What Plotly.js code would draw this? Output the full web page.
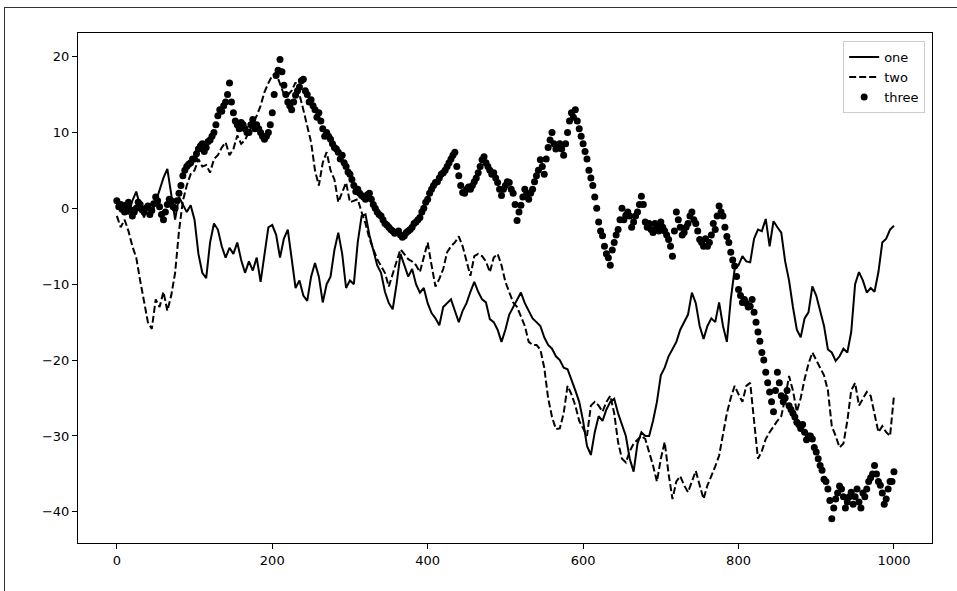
<!DOCTYPE html>
<html>
<head>
<meta charset="utf-8">
<script src="https://cdn.plot.ly/plotly-3.0.1.min.js"></script>
<style>
  html, body { margin: 0; padding: 0; background: #fff; overflow: hidden; }
  #chart { position: absolute; left: 0; top: 0; width: 957px; height: 591px; }
  #frame { position: absolute; left: 4px; top: 7px; width: 1200px; height: 900px;
           border-left: 1px solid #333; border-top: 1px solid #333; pointer-events: none; }
</style>
</head>
<body>
<div id="chart"></div>
<div id="frame"></div>
<script>
// Step interval between sampled readings (x = step index)
const stepSize = 5;

const seriesNames = ["one", "two", "three"];

const yOne = [
  0.5, -0.5, 0.8, -0.8, 1.0, 2.2, 0.3, -1.2, 0.4, -0.6,
  0.8, 2.5, 4.0, 5.2, 2.0, -1.5, 1.5, 0.5, -0.5, 0.4,
  -1.5, -6.0, -8.5, -9.2, -4.5, -2.0, -2.8, -5.0, -6.5, -5.2,
  -6.0, -4.5, -6.8, -8.5, -7.0, -8.2, -6.5, -9.7, -6.0, -2.5,
  -2.2, -3.5, -6.5, -4.0, -2.8, -6.5, -10.5, -9.5, -11.5, -12.2,
  -9.0, -7.2, -9.0, -12.4, -10.0, -9.0, -5.5, -3.2, -6.0, -10.5,
  -9.5, -10.0, -4.5, -1.0, -0.8, -3.5, -5.5, -7.5, -8.5, -11.0,
  -12.5, -13.3, -10.0, -6.0, -7.5, -9.0, -8.0, -10.0, -11.1, -10.5,
  -12.5, -13.8, -14.5, -15.4, -13.0, -12.5, -12.0, -13.5, -15.0, -13.5,
  -12.5, -11.0, -9.7, -11.0, -12.0, -12.4, -14.6, -15.0, -16.0, -17.6,
  -16.0, -14.0, -13.0, -12.0, -11.1, -12.5, -13.5, -14.5, -15.0, -15.5,
  -17.0, -18.0, -18.5, -19.5, -20.0, -21.0, -21.2, -22.5, -24.0, -25.5,
  -28.0, -31.3, -32.5, -29.5, -27.4, -28.0, -26.5, -25.5, -25.1, -27.0,
  -28.5, -30.0, -33.0, -34.7, -31.0, -29.5, -30.0, -30.0, -28.0, -25.5,
  -22.0, -21.0, -19.5, -18.5, -17.6, -16.0, -15.0, -14.0, -11.1, -12.5,
  -15.5, -17.2, -15.5, -14.5, -15.0, -12.4, -15.5, -17.6, -12.0, -8.0,
  -7.5, -6.3, -7.0, -7.1, -4.0, -2.8, -3.0, -1.4, -5.0, -1.7,
  -2.5, -3.2, -7.0, -9.5, -13.0, -16.0, -17.0, -14.5, -13.7, -10.3,
  -11.5, -13.7, -15.5, -18.6, -19.0, -20.1, -19.5, -18.5, -19.0, -16.3,
  -10.0, -8.4, -9.5, -11.1, -10.5, -11.0, -8.4, -4.5, -4.0, -2.8,
  -2.3
];

const yTwo = [
  -1.0, -2.5, -1.5, -3.0, -5.0, -6.5, -9.5, -12.5, -15.0, -15.9,
  -12.0, -13.0, -11.0, -13.5, -11.5, -8.5, -3.0, 1.0, 3.0, 4.5,
  5.0, 6.5, 5.5, 5.7, 4.7, 6.5, 7.0, 8.0, 8.7, 7.0,
  7.8, 9.6, 8.5, 9.0, 10.0, 11.0, 12.2, 13.5, 15.3, 16.5,
  17.5, 17.8, 16.5, 15.0, 14.9, 15.5, 16.6, 15.0, 13.0, 11.0,
  8.7, 5.0, 3.0, 6.0, 7.4, 5.0, 3.8, 0.8, 2.0, 3.4,
  0.8, 1.0, 1.2, -0.5, -2.0, -4.0, -5.5, -6.7, -7.6, -8.5,
  -10.3, -8.5, -7.0, -5.4, -6.0, -6.7, -7.0, -7.5, -8.4, -6.5,
  -4.5, -7.5, -10.3, -9.3, -8.0, -5.8, -5.0, -4.5, -3.7, -5.0,
  -7.0, -8.9, -6.3, -6.0, -6.3, -7.0, -8.4, -6.5, -6.0, -7.5,
  -9.7, -11.0, -12.4, -13.0, -14.2, -15.5, -17.6, -18.0, -18.0, -18.6,
  -21.0, -25.0, -27.5, -29.1, -29.0, -27.0, -23.4, -24.5, -26.0, -28.0,
  -29.0, -30.0, -26.0, -25.5, -26.0, -26.8, -25.5, -24.7, -27.0, -30.8,
  -33.0, -33.5, -32.0, -31.0, -30.5, -30.0, -30.4, -32.0, -33.9, -36.0,
  -33.0, -30.8, -35.0, -38.3, -36.0, -35.3, -36.5, -37.4, -36.0, -34.6,
  -36.5, -38.3, -36.5, -35.3, -34.0, -32.6, -30.0, -27.0, -25.0, -23.4,
  -24.5, -25.5, -23.4, -23.0, -28.0, -33.0, -32.0, -30.4, -29.5, -28.7,
  -28.0, -27.4, -25.0, -22.1, -24.0, -26.8, -25.0, -22.5, -20.5, -19.0,
  -20.0, -20.8, -22.0, -24.0, -28.7, -30.0, -31.5, -31.0, -28.0, -24.0,
  -23.0, -26.0, -25.0, -24.2, -24.7, -27.0, -29.5, -28.7, -29.5, -30.0,
  -24.7
];

// "three" readings on whole steps (0, 5, 10, ...)
const yThree = [
  1.0, 0.5, -0.5, 0.8, -1.0, 0.0, 0.5, -0.5, 0.3, -0.3,
  1.5, 0.2, -1.5, 0.5, 1.0, 0.0, 2.0, 4.3, 5.5, 6.0,
  6.5, 7.8, 8.5, 8.0, 9.0, 10.0, 12.2, 12.8, 14.0, 16.5,
  12.6, 11.0, 11.3, 10.5, 10.0, 11.7, 11.0, 10.0, 9.1, 10.0,
  12.6, 17.5, 19.6, 16.2, 14.0, 13.0, 14.9, 16.0, 17.0, 15.0,
  14.3, 13.0, 12.6, 10.5, 10.0, 9.1, 8.0, 7.4, 7.0, 5.5,
  4.5, 3.0, 2.5, 1.7, 1.2, 2.0, 0.5, -0.5, -1.0, -2.0,
  -2.5, -3.0, -3.2, -3.5, -3.6, -3.0, -2.5, -1.8, -1.2, 0.0,
  1.2, 2.5, 3.4, 4.0, 4.7, 5.5, 6.5, 7.4, 4.3, 2.1,
  2.5, 2.5, 3.5, 4.7, 6.4, 6.0, 5.0, 4.7, 3.4, 1.7,
  3.0, 3.4, 2.0, -1.6, 0.4, 2.5, 1.2, 2.5, 4.3, 6.4,
  4.5, 8.0, 10.0, 7.8, 8.5, 7.0, 10.0, 12.6, 13.0, 10.5,
  8.5, 6.5, 4.0, 1.5, -1.8, -3.6, -6.0, -7.5, -4.5, -2.8,
  0.0, -0.9, -1.0, -1.8, -0.5, 1.6, -1.8, -2.0, -3.2, -2.5,
  -1.8, -3.0, -4.1, -6.3, -0.5, -2.5, -3.2, -2.0, -0.5, -2.0,
  -4.1, -5.0, -5.0, -3.5, -2.8, 0.3, -1.0, -3.7, -5.8, -7.6,
  -10.7, -12.4, -12.5, -12.9, -13.7, -16.3, -19.0, -21.6, -24.2, -26.8,
  -21.6, -24.7, -25.0, -26.0, -27.0, -28.2, -29.0, -29.5, -30.0, -30.4,
  -32.1, -33.9, -35.7, -37.0, -40.9, -38.3, -36.6, -38.0, -38.7, -37.4,
  -38.0, -38.7, -37.5, -37.0, -35.5, -33.9, -36.0, -37.5, -38.3, -36.0,
  -34.7
];

// "three" readings between whole steps (2.5, 7.5, 12.5, ...)
const yThreeMid = [
  0.2, 0.0, 0.3, -0.2, -0.5, 0.8, -0.2, 0.0, -0.8, 0.6,
  1.0, -0.8, -0.5, 1.2, 0.2, 1.0, 3.0, 5.0, 5.8, 6.5,
  7.2, 8.2, 7.5, 8.8, 9.5, 11.0, 13.0, 13.5, 15.0, 14.0,
  11.5, 10.5, 11.0, 10.0, 11.0, 10.5, 10.5, 9.5, 9.5, 11.0,
  15.0, 18.2, 18.0, 15.0, 13.5, 14.0, 15.5, 16.8, 15.5, 14.0,
  13.5, 12.0, 11.5, 9.5, 9.5, 8.5, 7.8, 6.5, 6.0, 4.8,
  3.8, 2.2, 2.0, 1.5, 1.8, 1.2, 0.0, -0.8, -1.5, -2.2,
  -2.8, -3.3, -3.0, -3.8, -3.2, -2.8, -2.0, -1.5, -0.5, 0.8,
  2.0, 3.0, 3.5, 4.5, 5.0, 6.0, 7.0, 5.5, 3.0, 2.0,
  2.8, 3.0, 4.0, 5.5, 6.8, 5.5, 4.5, 4.0, 2.5, 2.5,
  3.5, 2.5, 0.5, -0.5, 1.5, 2.0, 2.0, 3.5, 5.0, 5.5,
  6.5, 9.0, 8.5, 8.0, 7.8, 8.5, 11.5, 12.0, 11.5, 9.5,
  7.5, 5.0, 3.0, 0.0, -3.0, -5.0, -6.5, -5.5, -3.5, -1.5,
  -1.5, -0.5, -2.5, -1.0, 0.5, 0.5, -2.5, -2.8, -2.0, -3.0,
  -2.5, -3.5, -5.0, -3.0, -1.5, -3.5, -2.5, -1.0, -1.5, -3.0,
  -4.5, -4.0, -4.5, -2.0, -1.0, -0.5, -2.5, -4.5, -6.8, -9.0,
  -11.5, -12.0, -13.0, -12.0, -15.0, -17.5, -20.0, -23.0, -25.5, -24.0,
  -23.0, -25.5, -24.0, -26.5, -27.5, -28.5, -28.5, -30.5, -30.0, -31.5,
  -33.0, -34.5, -36.0, -38.5, -39.5, -37.5, -37.0, -39.5, -38.0, -39.0,
  -37.0, -39.5, -38.0, -36.0, -35.0, -35.0, -36.5, -39.0, -37.0, -36.0
];

const xTickVals = [0, 200, 400, 600, 800, 1000];
const yTickVals = [-40, -30, -20, -10, 0, 10, 20];

const steps = yOne.map((_, i) => i * stepSize);

// interleave whole-step and half-step readings of "three"
const xThree = [], yThreeAll = [];
yThree.forEach((v, i) => {
  xThree.push(i * stepSize); yThreeAll.push(v);
  if (i < yThreeMid.length) { xThree.push(i * stepSize + stepSize / 2); yThreeAll.push(yThreeMid[i]); }
});

const fontFamily = "DejaVu Sans, sans-serif";

const traces = [
  { x: steps, y: yOne, name: seriesNames[0], type: "scatter", mode: "lines",
    line: { color: "#000", width: 2 } },
  { x: steps, y: yTwo, name: seriesNames[1], type: "scatter", mode: "lines",
    line: { color: "#000", width: 2, dash: "7px,3px" } },
  { x: xThree, y: yThreeAll, name: seriesNames[2], type: "scatter", mode: "markers",
    marker: { color: "#000", size: 7 } }
];

const axisCommon = {
  showgrid: false, zeroline: false, showline: true, mirror: true,
  linecolor: "#000", linewidth: 1, ticks: "outside", ticklen: 5, tickwidth: 1,
  tickcolor: "#000", tickfont: { family: fontFamily, size: 13, color: "#000" }
};

const layout = {
  width: 957, height: 591,
  margin: { l: 78, r: 25, t: 33, b: 48 },
  paper_bgcolor: "#fff", plot_bgcolor: "#fff",
  font: { family: fontFamily, size: 13, color: "#000" },
  xaxis: Object.assign({}, axisCommon, { range: [-49.95, 1048.95], tickvals: xTickVals }),
  yaxis: Object.assign({}, axisCommon, { range: [-44.1, 23.1], tickvals: yTickVals }),
  showlegend: true,
  legend: {
    x: 0.992, y: 0.984, xanchor: "right", yanchor: "top",
    bgcolor: "rgba(255,255,255,0.8)", bordercolor: "#ccc", borderwidth: 1,
    font: { family: fontFamily, size: 13, color: "#000" },
    itemwidth: 30, tracegroupgap: 0
  }
};

Plotly.newPlot("chart", traces, layout, { staticPlot: true, displayModeBar: false });
</script>
</body>
</html>
